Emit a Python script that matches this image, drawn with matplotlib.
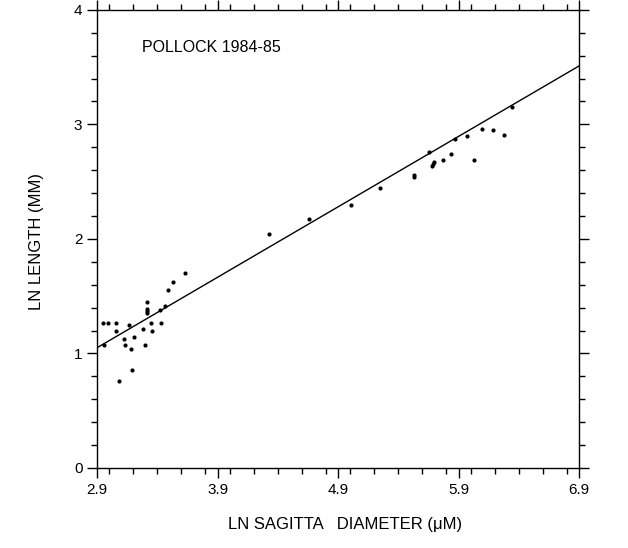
import numpy as np
import matplotlib.pyplot as plt
from matplotlib.ticker import MultipleLocator

plt.rcParams['font.family'] = ['Liberation Sans', 'DejaVu Sans']

# ln sagitta diameter vs ln length
ln_diam = [2.952, 2.991, 3.055, 3.058, 2.956, 3.166, 3.122, 3.132, 3.185, 3.205,
           3.085, 3.190, 3.284, 3.298, 3.315, 3.315, 3.315, 3.315, 3.348, 3.354,
           3.420, 3.434, 3.462, 3.487, 3.533, 3.633,
           4.330, 4.657, 5.008, 5.249,
           5.531, 5.528, 5.655, 5.680, 5.686, 5.694, 5.771, 5.840, 5.874, 5.968,
           6.031, 6.095, 6.186, 6.278, 6.344]
ln_len = [1.269, 1.269, 1.264, 1.197, 1.077, 1.246, 1.127, 1.077, 1.042, 1.147,
          0.760, 0.853, 1.217, 1.072, 1.447, 1.389, 1.371, 1.354, 1.264, 1.199,
          1.377, 1.264, 1.412, 1.552, 1.624, 1.700,
          2.041, 2.175, 2.294, 2.445,
          2.559, 2.539, 2.762, 2.638, 2.655, 2.670, 2.690, 2.745, 2.871, 2.897,
          2.693, 2.961, 2.952, 2.906, 3.153]

# regression line end points
fit_x = [2.9, 6.9]
fit_y = [1.05, 3.51]

fig = plt.figure(figsize=(6.28, 5.48), dpi=100)
ax = fig.add_axes([0.1545, 0.146, 0.7675, 0.836])

ax.plot(ln_diam, ln_len, 'o', color='black', markersize=3, markeredgewidth=0)
ax.plot(fit_x, fit_y, color='black', linewidth=1)

ax.set_xlim(2.9, 6.9)
ax.set_ylim(0, 4)
ax.set_xticks([2.9, 3.9, 4.9, 5.9, 6.9])
ax.set_yticks([0, 1, 2, 3, 4])
ax.xaxis.set_minor_locator(MultipleLocator(0.2))
ax.yaxis.set_minor_locator(MultipleLocator(0.2))
ax.tick_params(which='both', direction='out', top=True, right=True,
               labelsize=11, width=1)
ax.tick_params(which='major', length=7)
ax.tick_params(which='minor', length=4)
for s in ax.spines.values():
    s.set_linewidth(1)

ax.text(3.27, 3.63, 'POLLOCK 1984-85', fontsize=11.5)
ax.set_xlabel('LN SAGITTA   DIAMETER (μM)', fontsize=12)
ax.xaxis.set_label_coords(0.515, -0.108)
ax.set_ylabel('LN LENGTH (MM)', fontsize=12)
ax.yaxis.set_label_coords(-0.11, 0.495)

fig.savefig('out.png', dpi=100)
